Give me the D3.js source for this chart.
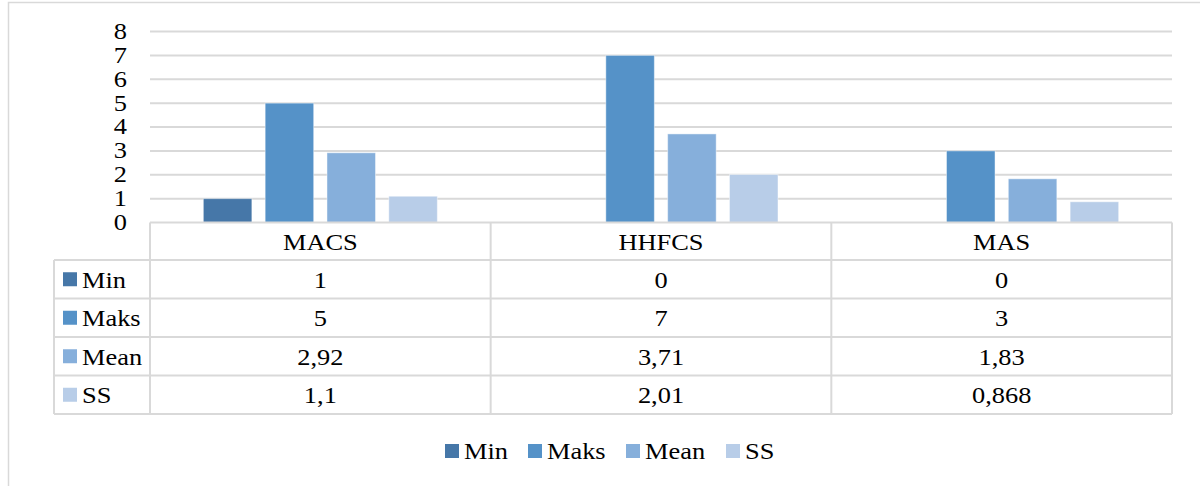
<!DOCTYPE html>
<html>
<head>
<meta charset="utf-8">
<script src="https://cdn.jsdelivr.net/npm/d3@7"></script>
<style>
  html, body { margin: 0; padding: 0; background: #fff; }
  svg { display: block; }
</style>
</head>
<body>
<svg id="chart" width="1200" height="486"></svg>
<script>
// Descriptive statistics per scale
const categories = ["MACS", "HHFCS", "MAS"];
const seriesNames = ["Min", "Maks", "Mean", "SS"];
const minValues = [1, 0, 0];
const maksValues = [5, 7, 3];
const meanValues = [2.92, 3.71, 1.83];
const ssValues = [1.1, 2.01, 0.868];
const tableLabels = [
  ["1", "0", "0"],
  ["5", "7", "3"],
  ["2,92", "3,71", "1,83"],
  ["1,1", "2,01", "0,868"]
];
const yTicks = [0, 1, 2, 3, 4, 5, 6, 7, 8];
const seriesColors = ["#4677a8", "#5592c8", "#86afdb", "#b8cde8"];

const seriesValues = [minValues, maksValues, meanValues, ssValues];

const svg = d3.select("#chart");
const gridColor = "#d9d9d9";
const fontFamily = "Liberation Serif";
const fontSize = 24;
const stretch = 1.1;

// Places a text label; glyphs are slightly widened
function label(parent, x, y, str, anchor) {
  return parent.append("text")
    .attr("transform", `translate(${x},${y}) scale(${stretch},1)`)
    .attr("dy", "0.35em")
    .attr("text-anchor", anchor || "start")
    .style("font-family", fontFamily)
    .style("font-size", fontSize + "px")
    .attr("fill", "#000")
    .text(str);
}

// Outer chart frame
svg.append("rect")
  .attr("x", 8.5).attr("y", 2.5)
  .attr("width", 1220).attr("height", 520)
  .attr("fill", "none").attr("stroke", gridColor).attr("stroke-width", 1.5);

const plot = { left: 150, right: 1172, top: 31.5, bottom: 222.5 };

const x = d3.scaleBand()
  .domain(categories)
  .range([plot.left, plot.right])
  .paddingInner(0).paddingOuter(0);

const y = d3.scaleLinear()
  .domain([0, 8])
  .range([plot.bottom, plot.top]);

// Bars within each category
const groupWidth = 234;
const xs = d3.scaleBand()
  .domain(seriesNames)
  .range([0, groupWidth])
  .paddingInner(0.215)
  .paddingOuter(0);

// Gridlines
svg.append("g")
  .selectAll("line")
  .data(yTicks.filter(t => t > 0))
  .join("line")
  .attr("x1", plot.left).attr("x2", plot.right)
  .attr("y1", d => y(d)).attr("y2", d => y(d))
  .attr("stroke", gridColor).attr("stroke-width", 2);

// Y axis labels
const yg = svg.append("g");
yTicks.forEach(t => label(yg, 127, y(t) - 1, String(t), "end"));

// Bars
const bars = [];
categories.forEach((c, ci) => {
  seriesNames.forEach((s, si) => {
    bars.push({ cat: c, series: s, si, value: seriesValues[si][ci] });
  });
});
svg.append("g")
  .selectAll("rect")
  .data(bars.filter(d => d.value > 0))
  .join("rect")
  .attr("x", d => x(d.cat) + (x.bandwidth() - groupWidth) / 2 + xs(d.series))
  .attr("width", xs.bandwidth())
  .attr("y", d => y(d.value))
  .attr("height", d => y(0) - y(d.value))
  .attr("fill", d => seriesColors[d.si])
  .attr("stroke", "rgba(255,255,255,0.45)")
  .attr("stroke-width", 1);

// Data table under the plot
const headerTop = plot.bottom;
const headerH = 37.5;
const rowH = 38.5;
const labelLeft = 54;
const tableBottom = headerTop + headerH + rowH * seriesNames.length;

const tbl = svg.append("g");
const line = (x1, y1, x2, y2) => tbl.append("line")
  .attr("x1", x1).attr("y1", y1).attr("x2", x2).attr("y2", y2)
  .attr("stroke", gridColor).attr("stroke-width", 2);

// horizontal lines
line(plot.left, headerTop, plot.right, headerTop);
for (let r = 0; r <= seriesNames.length; r++) {
  const yy = headerTop + headerH + r * rowH;
  line(labelLeft, yy, plot.right, yy);
}
// vertical lines
line(labelLeft, headerTop + headerH, labelLeft, tableBottom);
categories.forEach(c => line(x(c), headerTop, x(c), tableBottom));
line(plot.right, headerTop, plot.right, tableBottom);

// category headers
categories.forEach(c => label(tbl, x(c) + x.bandwidth() / 2, headerTop + headerH / 2, c, "middle"));

// row labels with legend keys, then values
seriesNames.forEach((s, si) => {
  const cy = headerTop + headerH + si * rowH + rowH / 2;
  tbl.append("rect")
    .attr("x", 63).attr("y", cy - 7)
    .attr("width", 14).attr("height", 14)
    .attr("fill", seriesColors[si]);
  label(tbl, 82, cy, s, "start");
  categories.forEach((c, ci) => {
    label(tbl, x(c) + x.bandwidth() / 2, cy, tableLabels[si][ci], "middle");
  });
});

// Legend
const legendX = [445, 528, 626, 726];
const legendCy = 451;
const lg = svg.append("g");
seriesNames.forEach((s, si) => {
  lg.append("rect")
    .attr("x", legendX[si]).attr("y", legendCy - 7)
    .attr("width", 14).attr("height", 14)
    .attr("fill", seriesColors[si]);
  label(lg, legendX[si] + 19, legendCy, s, "start");
});
</script>
</body>
</html>
